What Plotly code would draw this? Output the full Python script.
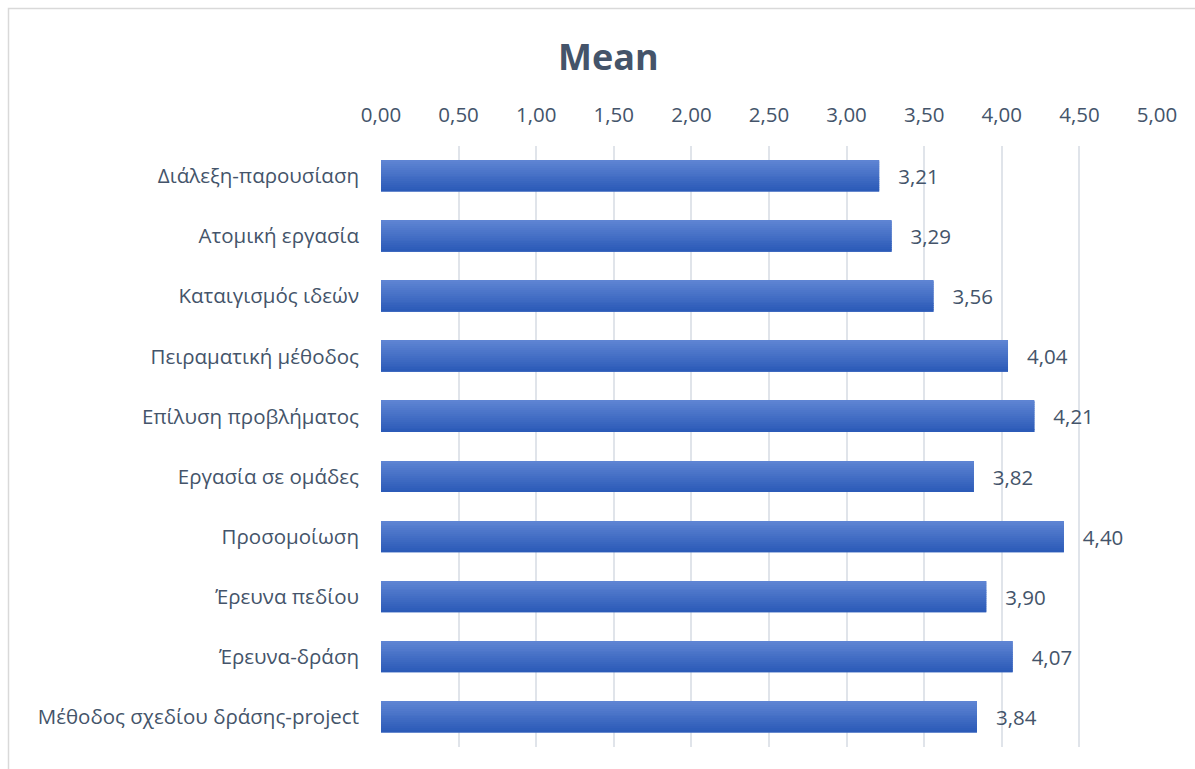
import plotly.graph_objects as go

categories = [
    "Διάλεξη-παρουσίαση",
    "Ατομική εργασία",
    "Καταιγισμός ιδεών",
    "Πειραματική μέθοδος",
    "Επίλυση προβλήματος",
    "Εργασία σε ομάδες",
    "Προσομοίωση",
    "Έρευνα πεδίου",
    "Έρευνα-δράση",
    "Μέθοδος σχεδίου δράσης-project",
]
means = [3.21, 3.29, 3.56, 4.04, 4.21, 3.82, 4.40, 3.90, 4.07, 3.84]
x_ticks = [0, 0.5, 1, 1.5, 2, 2.5, 3, 3.5, 4, 4.5, 5]

TEXT = "#44546A"
GRID = "#E0E4EA"
FONT = "Open Sans"
FS = 20.5
BAR_W = 0.515

# gradient colours (top -> bottom)
top_rgb = (0x5E, 0x84, 0xD3)
bot_rgb = (0x2C, 0x5B, 0xB8)
N_STRIPS = 16
grad = []
for i in range(N_STRIPS):
    t = i / (N_STRIPS - 1)
    r, g, b = (round(a + (c - a) * t) for a, c in zip(top_rgb, bot_rgb))
    grad.append(f"rgb({r},{g},{b})")

fig = go.Figure()
fig.add_trace(go.Bar(
    x=means, y=categories, orientation="h", width=BAR_W,
    marker=dict(color="#4570C6", line=dict(width=0)),
    texttemplate="\u00a0\u00a0\u00a0%{x:.2f}", textposition="outside",
    textfont=dict(color=TEXT, size=FS, family=FONT),
    cliponaxis=False, showlegend=False,
))
sw = BAR_W / N_STRIPS
for i, c in enumerate(grad):
    fig.add_trace(go.Bar(
        x=means, y=categories, orientation="h", width=sw,
        offset=-BAR_W / 2 + i * sw,
        marker=dict(color=c, line=dict(width=0)),
        hoverinfo="skip", showlegend=False,
    ))

fig.update_layout(
    width=1195, height=769,
    barmode="overlay",
    separators=",.",
    paper_bgcolor="white", plot_bgcolor="white",
    margin=dict(l=381, r=38, t=146, b=22),
    font=dict(family=FONT, color=TEXT, size=FS),
    title=dict(text="<b>Mean</b>", x=0.509, xref="container", xanchor="center",
               y=1 - 57 / 769, yref="container", yanchor="middle",
               font=dict(size=36, color=TEXT, family=FONT)),
    xaxis=dict(side="top", range=[0, 5], tickvals=x_ticks, tickformat=".2f",
               showgrid=True, gridcolor=GRID, gridwidth=1.5,
               zeroline=False, showline=False, ticks="",
               ticklabelstandoff=19, tickfont=dict(size=FS, color=TEXT)),
    yaxis=dict(categoryorder="array", categoryarray=categories, autorange="reversed",
               showgrid=False, zeroline=False, showline=False, ticks="",
               ticklabelstandoff=21, tickfont=dict(size=FS, color=TEXT)),
    shapes=[dict(type="rect", xref="paper", yref="paper",
                 x0=(8.5 - 381) / 776, x1=1.06, y0=-0.06, y1=1 + (146 - 8.5) / 601,
                 line=dict(color="#D9D9D9", width=1.5), fillcolor="rgba(0,0,0,0)",
                 layer="below")],
)

fig.write_html("out.html")
